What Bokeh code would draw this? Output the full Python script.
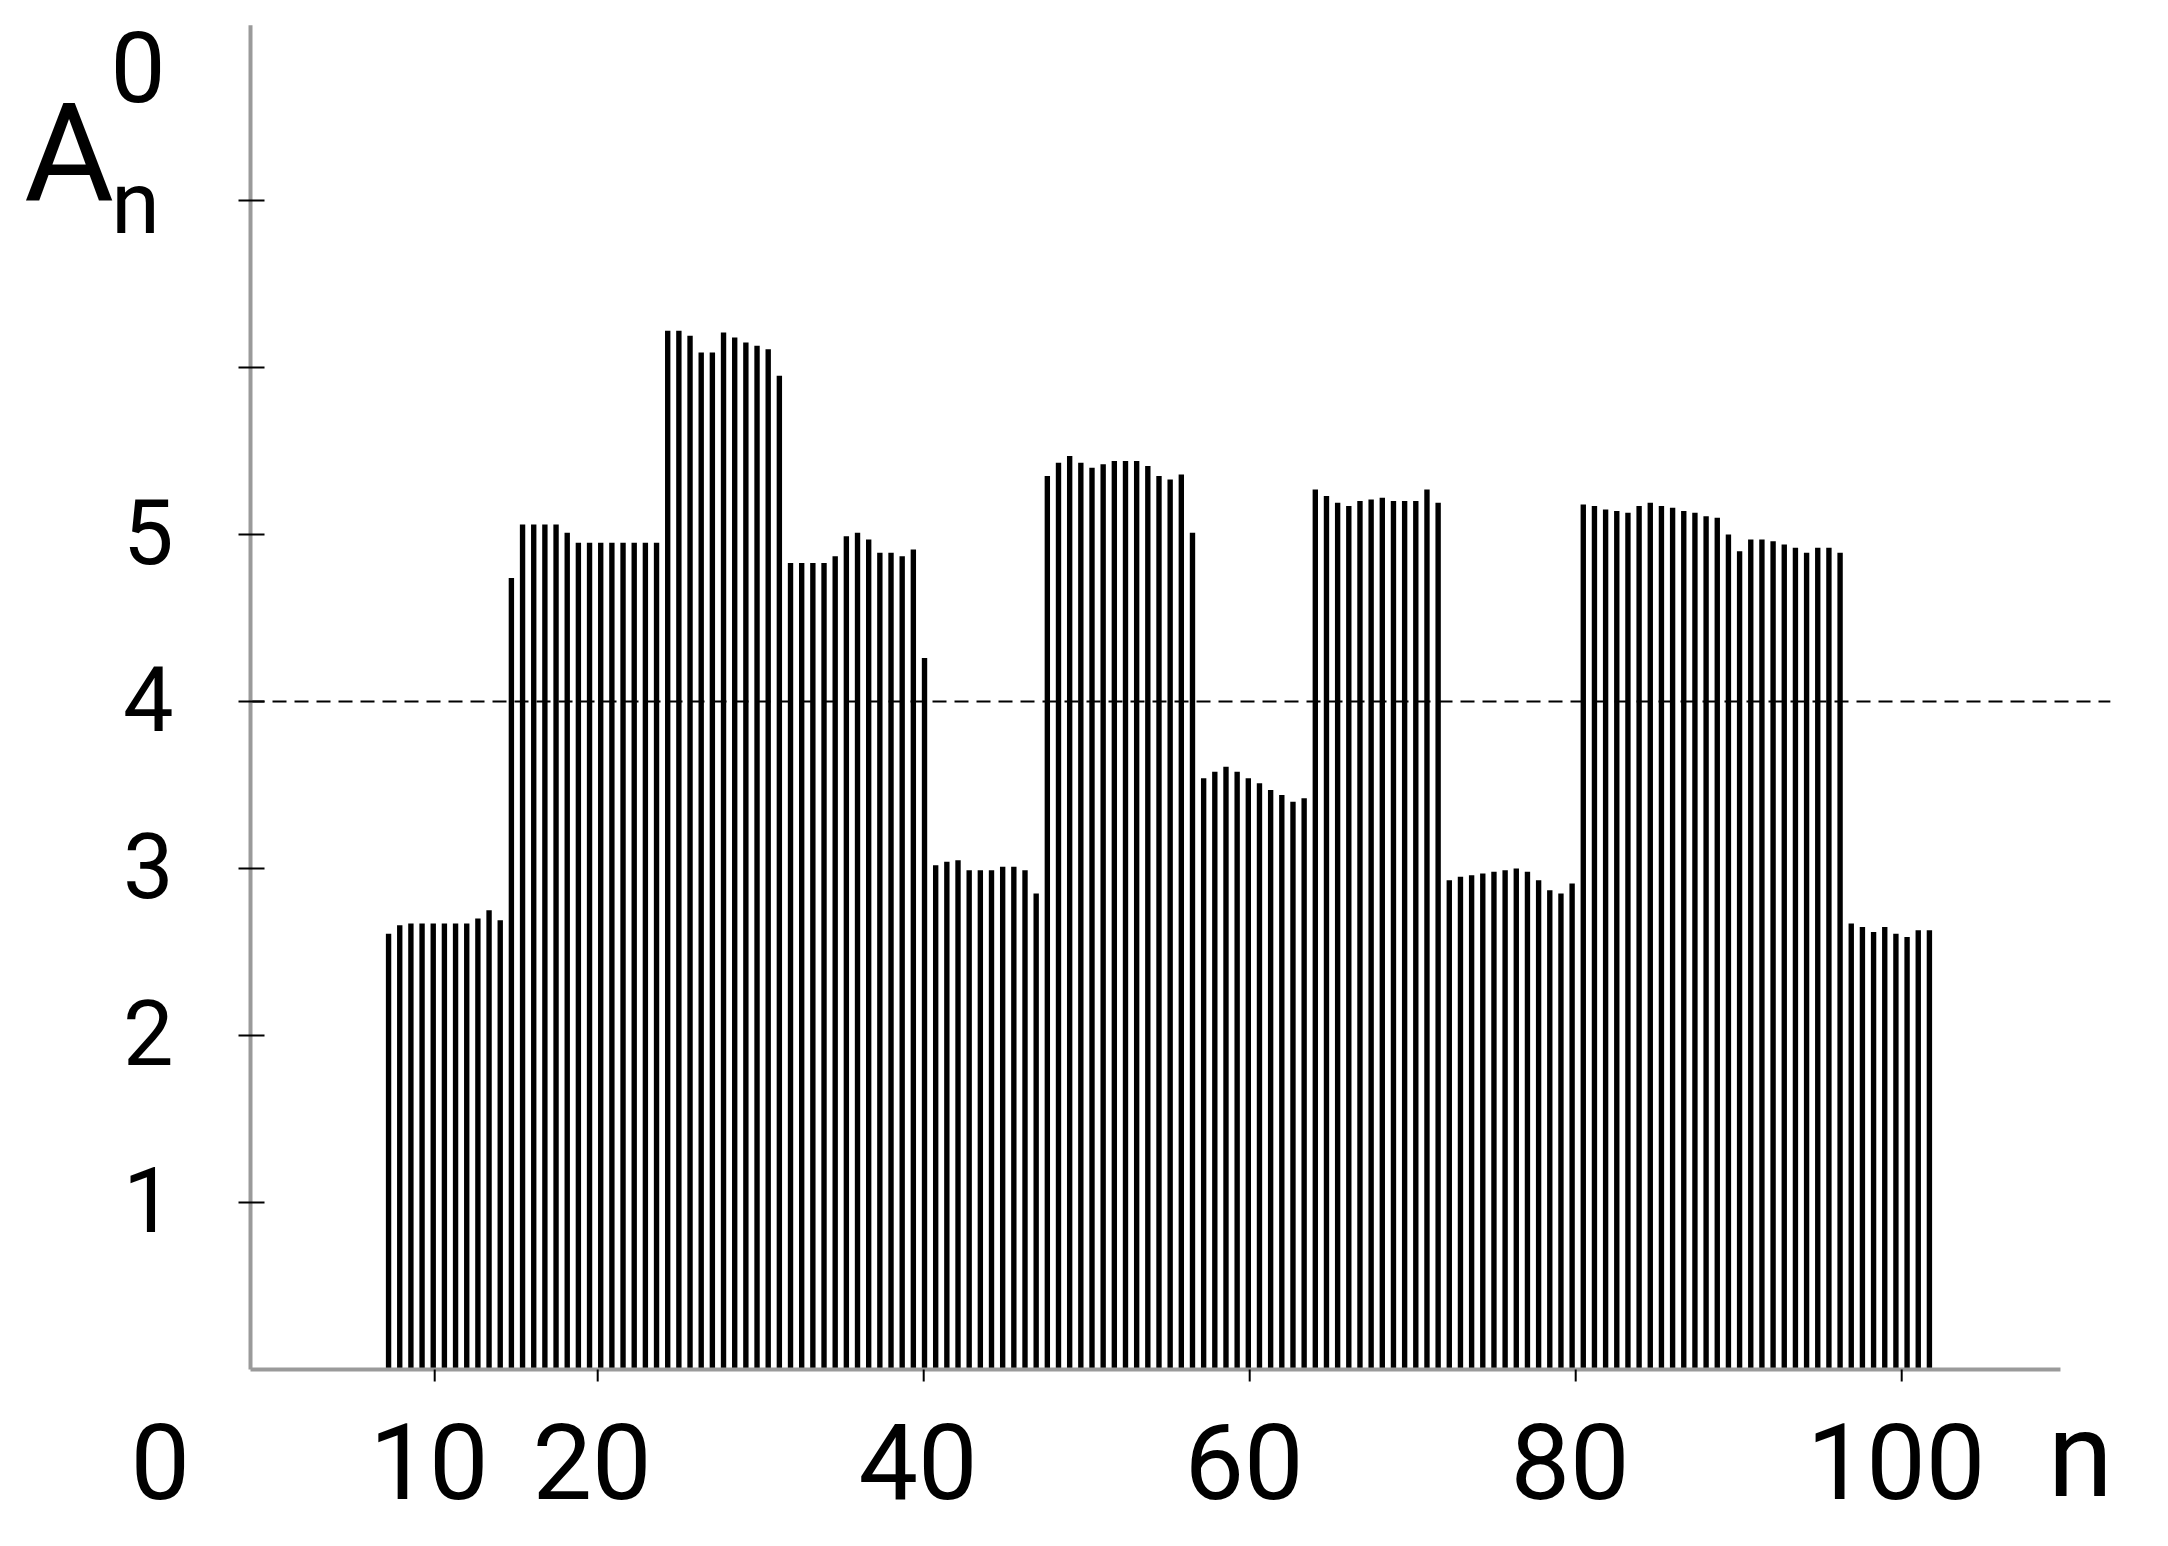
import numpy as np
from bokeh.plotting import figure
from bokeh.models import Range1d
from bokeh.core.properties import value
from bokeh.embed import file_html
from bokeh.resources import INLINE

# ---- data ----
A_n0 = [
    2.61, 2.66, 2.67, 2.67, 2.67, 2.67, 2.67, 2.67, 2.70, 2.75, 2.69,
    4.74, 5.06, 5.06, 5.06, 5.06, 5.01, 4.95, 4.95, 4.95, 4.95, 4.95, 4.95, 4.95, 4.95,
    6.22, 6.22, 6.19, 6.09, 6.09, 6.21, 6.18, 6.15, 6.13, 6.11, 5.95,
    4.83, 4.83, 4.83, 4.83, 4.87, 4.99, 5.01, 4.97, 4.89, 4.89, 4.87, 4.91, 4.26,
    3.02, 3.04, 3.05, 2.99, 2.99, 2.99, 3.01, 3.01, 2.99, 2.85,
    5.35, 5.43, 5.47, 5.43, 5.40, 5.42, 5.44, 5.44, 5.44, 5.41, 5.35, 5.33, 5.36, 5.01,
    3.54, 3.58, 3.61, 3.58, 3.54, 3.51, 3.47, 3.44, 3.40, 3.42,
    5.27, 5.23, 5.19, 5.17, 5.20, 5.21, 5.22, 5.20, 5.20, 5.20, 5.27, 5.19,
    2.93, 2.95, 2.96, 2.97, 2.98, 2.99, 3.00, 2.98, 2.93, 2.87, 2.85, 2.91,
    5.18, 5.17, 5.15, 5.14, 5.13, 5.17, 5.19, 5.17, 5.16, 5.14, 5.13, 5.11, 5.10,
    5.00, 4.90, 4.97, 4.97, 4.96, 4.94, 4.92, 4.89, 4.92, 4.92, 4.89,
    2.67, 2.65, 2.62, 2.65, 2.61, 2.59, 2.63, 2.63,
]
n_first = 7.17      # n of the first bar
n_step = 0.685      # spacing of the bars in n
x_ticks = [10, 20, 40, 60, 80, 100]
x_tick_labels = ["10", "20", "40", "60", "80", "100"]
y_ticks = [1, 2, 3, 4, 5, 6, 7]
y_tick_labels = ["1", "2", "3", "4", "5", "", ""]
threshold = 4

n = n_first + n_step * np.arange(len(A_n0))

FONT = value("Roboto")
W, H = 2160, 1540
# pixel scale of the drawing: 16.3 px per unit of n, 167 px per unit of A
PX_N, PX_A = 16.3, 167.0
X0_PX, Y0_PX = 271.2, 1369.0          # where n = 0 and A = 0 fall on the canvas
xr = Range1d(-X0_PX / PX_N, (W - X0_PX) / PX_N)
yr = Range1d((Y0_PX - H) / PX_A, Y0_PX / PX_A)

p = figure(width=W, height=H, output_backend="svg", toolbar_location=None,
           x_range=xr, y_range=yr, min_border=0)
p.xaxis.visible = False
p.yaxis.visible = False
p.xgrid.visible = False
p.ygrid.visible = False
p.outline_line_color = None
p.background_fill_color = "white"
p.border_fill_color = "white"

x_axis_at = -1.30      # n where the A axis stands
x_axis_end = 109.74    # n where the n axis ends
y_axis_top = 8.05
dash_end = 112.8
tick_out_n = 12 / PX_N
tick_in_n = 14 / PX_N
tick_out_a = 12 / PX_A
label_row = -0.545     # middle of the n-axis labels, in A units

# bars
p.vbar(x=n, top=A_n0, bottom=0, width=0.33, fill_color="black", line_color=None)

# dashed level A = 4
p.segment(x0=[x_axis_at], y0=[threshold], x1=[dash_end], y1=[threshold],
          line_color="black", line_width=2, line_dash="14 8")

# axis lines
p.segment(x0=[x_axis_at, x_axis_at], y0=[0, 0], x1=[x_axis_end, x_axis_at], y1=[0, y_axis_top],
          line_color="#9a9a9a", line_width=4)

# y ticks and labels
p.segment(x0=[x_axis_at - tick_out_n] * len(y_ticks), y0=y_ticks,
          x1=[x_axis_at + tick_in_n] * len(y_ticks), y1=y_ticks,
          line_color="black", line_width=2)
p.text(x=[-6.02] * len(y_ticks), y=[t + 0.02 for t in y_ticks], text=y_tick_labels,
       text_font=FONT, text_font_size="90px", text_align="right", text_baseline="middle",
       text_color="black")

# x ticks and labels
p.segment(x0=x_ticks, y0=[0] * len(x_ticks), x1=x_ticks, y1=[-tick_out_a] * len(x_ticks),
          line_color="black", line_width=2)
p.text(x=[t - 0.35 for t in x_ticks], y=[label_row] * len(x_ticks), text=x_tick_labels,
       text_font=FONT, text_font_size="106px", text_align="center", text_baseline="middle",
       text_color="black")

# "0" at the origin of n, and the axis name "n"
p.text(x=[-6.83], y=[label_row], text=["0"], text_font=FONT,
       text_font_size="106px", text_align="center", text_baseline="middle", text_color="black")
p.text(x=[110.96], y=[-0.52], text=["n"], text_font=FONT,
       text_font_size="118px", text_align="center", text_baseline="middle", text_color="black")

# A_n^0
p.text(x=[-12.44], y=[7.28], text=["A"], text_font=FONT, text_font_size="138px",
       text_align="center", text_baseline="middle", text_color="black")
p.text(x=[-8.36], y=[6.99], text=["n"], text_font=FONT, text_font_size="88px",
       text_align="center", text_baseline="middle", text_color="black")
p.text(x=[-8.2], y=[7.80], text=["0"], text_font=FONT, text_font_size="98px",
       text_align="center", text_baseline="middle", text_color="black")

open("out.html", "w").write(file_html(p, INLINE))
